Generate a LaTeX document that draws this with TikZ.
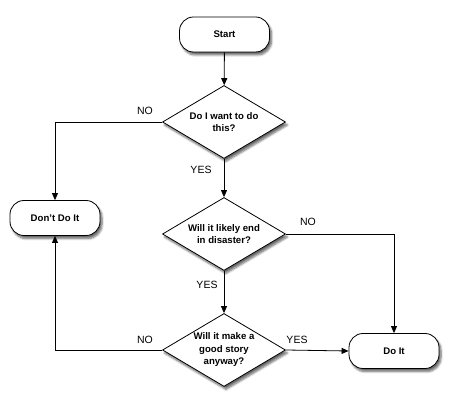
\documentclass[tikz,border=0pt]{standalone}
\usepackage{fontspec}
\setmainfont{Liberation Sans}
\usetikzlibrary{shapes.geometric,arrows.meta,shadows.blur}
\begin{document}
\begin{tikzpicture}[x=1pt,y=-1pt,
  every node/.style={font=\fontsize{9.6}{12.5}\selectfont},
  term/.style={draw=black, line width=0.8pt, fill=white, rounded corners=14pt,
    minimum width=90pt, minimum height=35pt, inner sep=0pt, font=\fontsize{9.6}{12.5}\selectfont\bfseries,
    blur shadow={shadow xshift=2pt, shadow yshift=-3pt, shadow blur steps=6, shadow opacity=60}},
  decision/.style={draw=black, line width=0.8pt, fill=white, diamond, aspect=1.7,
    minimum width=123pt, minimum height=73pt, inner sep=0pt, align=center,
    font=\fontsize{9.6}{12.5}\selectfont\bfseries,
    blur shadow={shadow xshift=2pt, shadow yshift=-3pt, shadow blur steps=6, shadow opacity=60}},
  conn/.style={draw=black, line width=0.8pt, -{Triangle[length=7pt,width=6pt]}},
  lbl/.style={font=\fontsize{10.5}{12}\selectfont, inner sep=0pt}
]
\useasboundingbox (0,0) rectangle (458,411);
\node[term] (start) at (224.5,34.5) {Start};
\node[decision] (d1) at (224,122) {Do I want to do\\this?};
\node[term] (dont) at (55,218) {Don't Do It};
\node[decision] (d2) at (224,234) {Will it likely end\\in disaster?};
\node[decision] (d3) at (224,350) {Will it make a\\good story\\anyway?};
\node[term] (doit) at (394,351) {Do It};

\draw[conn] (start) -- (d1);
\draw[conn] (d1) -- (d2);
\draw[conn] (d2) -- (d3);
\draw[conn] (d1.west) -| (dont.north);
\draw[conn] (d2.east) -| (doit.north);
\draw[conn] (d3.west) -| (dont.south);
\draw[conn] (d3.east) -- (doit.west);

\node[lbl] (l1) at (145,111) {NO};
\node[lbl] (l2) at (201,170) {YES};
\node[lbl] (l3) at (308,222) {NO};
\node[lbl] (l4) at (207,285) {YES};
\node[lbl] (l5) at (145,340) {NO};
\node[lbl] (l6) at (297,340) {YES};
\end{tikzpicture}
\end{document}
